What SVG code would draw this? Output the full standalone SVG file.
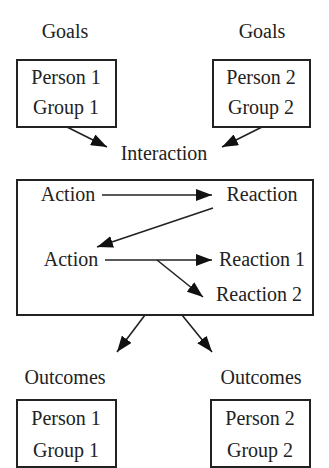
<svg xmlns="http://www.w3.org/2000/svg" width="329" height="468" viewBox="0 0 329 468">
  <defs>
    <marker id="head" viewBox="0 0 16 12" refX="16" refY="6" markerWidth="16" markerHeight="12" markerUnits="userSpaceOnUse" orient="auto">
      <path d="M0,0 L16,6 L0,12 Z" fill="#111"/>
    </marker>
  </defs>
  <style>
    text { font-family: "Liberation Serif", "Times New Roman", serif; font-size: 20px; fill: #222; text-anchor: middle; }
    .box { fill: #fff; stroke: #222; stroke-width: 2; }
    .link { fill: none; stroke: #222; stroke-width: 1.6; marker-end: url(#head); }
  </style>
  <rect width="329" height="468" fill="#fff"/>

  <!-- goals -->
  <g id="goals1">
    <text x="65" y="38">Goals</text>
    <rect class="box" x="17" y="60" width="99" height="67"/>
    <text x="66" y="84">Person 1</text>
    <text x="66" y="114">Group 1</text>
  </g>
  <g id="goals2">
    <text x="262" y="38">Goals</text>
    <rect class="box" x="213" y="60" width="97" height="67"/>
    <text x="261" y="84">Person 2</text>
    <text x="261" y="114">Group 2</text>
  </g>

  <g id="interaction-label">
    <text x="164" y="160">Interaction</text>
  </g>

  <!-- interaction panel -->
  <g id="interaction">
    <rect class="box" x="17" y="180" width="296" height="135"/>
    <text x="68" y="201">Action</text>
    <text x="262" y="201">Reaction</text>
    <text x="71" y="266">Action</text>
    <text x="262" y="266">Reaction 1</text>
    <text x="259" y="301">Reaction 2</text>
  </g>

  <!-- outcomes -->
  <g id="outcomes1">
    <text x="65" y="384">Outcomes</text>
    <rect class="box" x="17" y="400" width="99" height="67"/>
    <text x="66" y="425">Person 1</text>
    <text x="66" y="457">Group 1</text>
  </g>
  <g id="outcomes2">
    <text x="261" y="384">Outcomes</text>
    <rect class="box" x="211" y="400" width="99" height="67"/>
    <text x="260" y="425">Person 2</text>
    <text x="260" y="457">Group 2</text>
  </g>

  <g id="connectors">
    <line class="link" x1="67" y1="127" x2="107" y2="147"/>
    <line class="link" x1="262" y1="127" x2="222" y2="147"/>
    <line class="link" x1="102" y1="195" x2="212" y2="195"/>
    <line class="link" x1="213" y1="208" x2="97" y2="247"/>
    <line class="link" x1="105" y1="260" x2="212" y2="260"/>
    <line class="link" x1="157" y1="260" x2="203" y2="297"/>
    <line class="link" x1="145" y1="315" x2="117" y2="352"/>
    <line class="link" x1="182" y1="315" x2="212" y2="352"/>
  </g>
</svg>
